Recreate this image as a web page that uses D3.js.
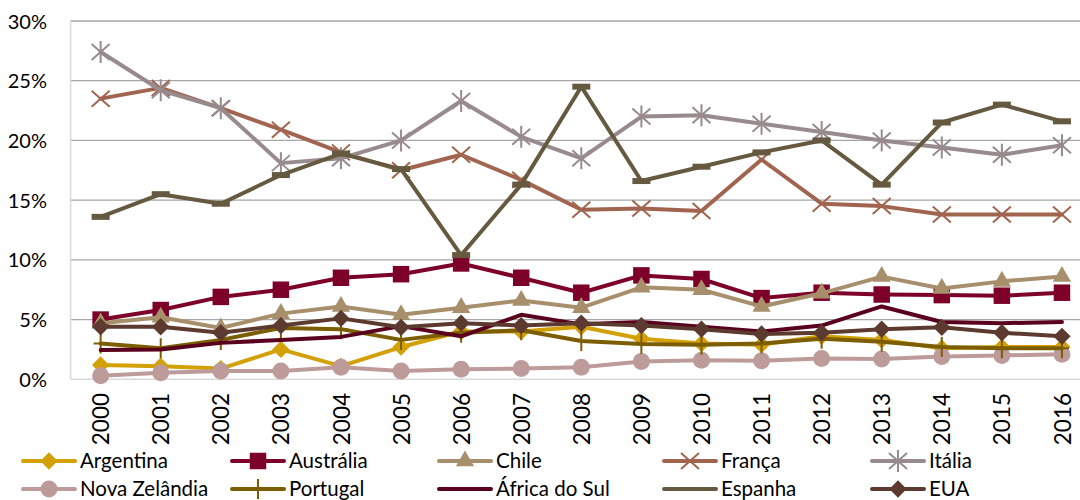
<!DOCTYPE html>
<html>
<head>
<meta charset="utf-8">
<script src="https://cdn.jsdelivr.net/npm/d3@7"></script>
<style>
  html, body { margin: 0; padding: 0; background: #fff; }
  svg { display: block; font-family: Lato, "Open Sans", sans-serif; }
</style>
</head>
<body>
<svg id="chart" width="1080" height="500"></svg>
<script>
// Anos do eixo horizontal
const years = ["2000","2001","2002","2003","2004","2005","2006","2007","2008",
               "2009","2010","2011","2012","2013","2014","2015","2016"];

// Rótulos do eixo vertical (fração)
const yTicks = [0, 0.05, 0.10, 0.15, 0.20, 0.25, 0.30];

// Quota por país, em %
const argentina    = [1.2, 1.1, 0.9, 2.5, 1.1, 2.7, 4.0, 4.0, 4.4, 3.4, 3.0, 2.9, 3.6, 3.3, 2.6, 2.7, 2.7];
const australia    = [5.0, 5.8, 6.9, 7.5, 8.5, 8.8, 9.7, 8.5, 7.25, 8.7, 8.4, 6.8, 7.25, 7.1, 7.05, 7.0, 7.25];
const chile        = [4.7, 5.2, 4.3, 5.5, 6.1, 5.4, 6.0, 6.6, 6.0, 7.7, 7.5, 6.1, 7.2, 8.6, 7.6, 8.2, 8.6];
const franca       = [23.5, 24.4, 22.7, 20.9, 19.0, 17.5, 18.8, 16.7, 14.2, 14.3, 14.1, 18.4, 14.7, 14.5, 13.8, 13.8, 13.8];
const italia       = [27.4, 24.2, 22.7, 18.1, 18.5, 20.0, 23.3, 20.3, 18.5, 22.0, 22.1, 21.4, 20.7, 20.0, 19.4, 18.8, 19.6];
const novaZelandia = [0.3, 0.55, 0.7, 0.7, 1.0, 0.7, 0.85, 0.9, 1.0, 1.5, 1.6, 1.55, 1.75, 1.7, 1.9, 2.0, 2.1];
const portugal     = [3.0, 2.6, 3.3, 4.3, 4.2, 3.3, 3.9, 4.1, 3.2, 2.95, 2.9, 3.0, 3.4, 3.15, 2.7, 2.6, 2.6];
const africaDoSul  = [2.45, 2.5, 3.05, 3.3, 3.55, 4.45, 3.6, 5.4, 4.6, 4.8, 4.4, 4.0, 4.5, 6.1, 4.8, 4.7, 4.8];
const espanha      = [13.6, 15.5, 14.7, 17.1, 18.9, 17.6, 10.4, 16.3, 24.5, 16.6, 17.8, 19.0, 20.0, 16.3, 21.5, 23.0, 21.6];
const eua          = [4.4, 4.4, 3.9, 4.5, 5.1, 4.35, 4.7, 4.5, 4.7, 4.5, 4.2, 3.8, 3.9, 4.2, 4.35, 3.9, 3.6];

const seriesNames = ["Argentina","Austrália","Chile","França","Itália",
                     "Nova Zelândia","Portugal","África do Sul","Espanha","EUA"];
const seriesValues = [argentina, australia, chile, franca, italia,
                      novaZelandia, portugal, africaDoSul, espanha, eua];

// Estilo de cada série: cor e marcador
const styles = [
  { color: "#D3A006", marker: "diamond" },
  { color: "#7D0029", marker: "square" },
  { color: "#A78F6B", marker: "triangle" },
  { color: "#A1654F", marker: "x" },
  { color: "#988B8D", marker: "asterisk" },
  { color: "#BD9B9B", marker: "circle" },
  { color: "#7C5D00", marker: "plus" },
  { color: "#5A001F", marker: "none" },
  { color: "#655A3F", marker: "dash" },
  { color: "#5C3A2F", marker: "diamond" }
];

const svg = d3.select("#chart");

// Área de plotagem
const plot = { left: 70.6, top: 21, right: 1092, bottom: 379.3 };

const x = d3.scaleBand().domain(years).range([plot.left, plot.right]).padding(0);
const cx = d => x(d) + x.bandwidth() / 2;
const y = d3.scaleLinear().domain([0, 0.30]).range([plot.bottom, plot.top]);

// Linhas de grade
const grid = svg.append("g");
grid.selectAll("line.grid")
  .data(yTicks.filter(t => t > 0))
  .join("line")
  .attr("x1", plot.left).attr("x2", plot.right)
  .attr("y1", d => y(d)).attr("y2", d => y(d))
  .attr("stroke", "#A6A6A6").attr("stroke-width", 1.3);

// Eixos (linhas claras)
grid.append("line")
  .attr("x1", plot.left).attr("x2", plot.right)
  .attr("y1", y(0)).attr("y2", y(0))
  .attr("stroke", "#D9D9D9").attr("stroke-width", 1.5);
grid.append("line")
  .attr("x1", plot.left).attr("x2", plot.left)
  .attr("y1", y(0.30)).attr("y2", y(0))
  .attr("stroke", "#D9D9D9").attr("stroke-width", 1.5);

// Eixo Y
const yAxis = d3.axisLeft(y).tickValues(yTicks).tickFormat(d3.format(".0%")).tickSize(0).tickPadding(0);
const gy = svg.append("g").attr("transform", "translate(47,0)").call(yAxis);
gy.select(".domain").remove();
gy.selectAll("text")
  .attr("font-family", "Lato, sans-serif")
  .attr("font-size", 20)
  .attr("fill", "#000")
  .attr("dy", "0.35em");

// Eixo X (anos na vertical)
const gx = svg.append("g");
gx.selectAll("text")
  .data(years)
  .join("text")
  .attr("transform", d => `translate(${cx(d)},393) rotate(-90)`)
  .attr("text-anchor", "end")
  .attr("dy", "0.38em")
  .attr("font-size", 22.5)
  .attr("fill", "#000")
  .text(d => d);

// Desenho dos marcadores
function drawMarker(g, type, color, px, py) {
  const mk = g.append("g").attr("transform", `translate(${px},${py})`);
  switch (type) {
    case "diamond":
      mk.append("path").attr("d", d3.symbol(d3.symbolSquare, 150)()).attr("transform", "rotate(45)").attr("fill", color);
      break;
    case "square":
      mk.append("path").attr("d", d3.symbol(d3.symbolSquare, 272)()).attr("fill", color);
      break;
    case "triangle":
      mk.append("path").attr("d", d3.symbol(d3.symbolTriangle, 145)()).attr("fill", color);
      break;
    case "circle":
      mk.append("circle").attr("r", 8.5).attr("fill", color);
      break;
    case "x":
      mk.append("path").attr("d", "M-9,-8L9,8M-9,8L9,-8").attr("stroke", color).attr("stroke-width", 2).attr("fill", "none");
      break;
    case "asterisk":
      mk.append("path").attr("d", "M-9,-8L9,8M-9,8L9,-8M0,-11L0,11").attr("stroke", color).attr("stroke-width", 2).attr("fill", "none");
      break;
    case "plus":
      mk.append("path").attr("d", "M0,-10L0,10M-7,0L7,0").attr("stroke", color).attr("stroke-width", 2).attr("fill", "none");
      break;
    case "dash":
      mk.append("rect").attr("x", -9).attr("y", -3).attr("width", 18).attr("height", 6).attr("fill", color);
      break;
  }
}

// Séries
const line = d3.line().x((d, i) => cx(years[i])).y(d => y(d / 100));
const series = svg.append("g");
seriesValues.forEach((vals, s) => {
  const st = styles[s];
  const g = series.append("g");
  g.append("path")
    .datum(vals)
    .attr("d", line)
    .attr("fill", "none")
    .attr("stroke", st.color)
    .attr("stroke-width", 4)
    .attr("stroke-linejoin", "round")
    .attr("stroke-linecap", "round");
  vals.forEach((v, i) => drawMarker(g, st.marker, st.color, cx(years[i]), y(v / 100)));
});

// Legenda
const legendCols = [23, 232, 439, 664, 872];
const legendRows = [461, 489];
const legend = svg.append("g");
seriesNames.forEach((name, s) => {
  const st = styles[s];
  const lx = legendCols[s % 5];
  const ly = legendRows[Math.floor(s / 5)];
  const g = legend.append("g");
  g.append("line")
    .attr("x1", lx).attr("x2", lx + 52)
    .attr("y1", ly).attr("y2", ly)
    .attr("stroke", st.color).attr("stroke-width", 4).attr("stroke-linecap", "round");
  if (st.marker !== "dash") drawMarker(g, st.marker, st.color, lx + 26, ly);
  g.append("text")
    .attr("x", lx + 57).attr("y", ly)
    .attr("dy", "0.36em")
    .attr("font-size", 20.5)
    .attr("fill", "#000")
    .text(name);
});
</script>
</body>
</html>
